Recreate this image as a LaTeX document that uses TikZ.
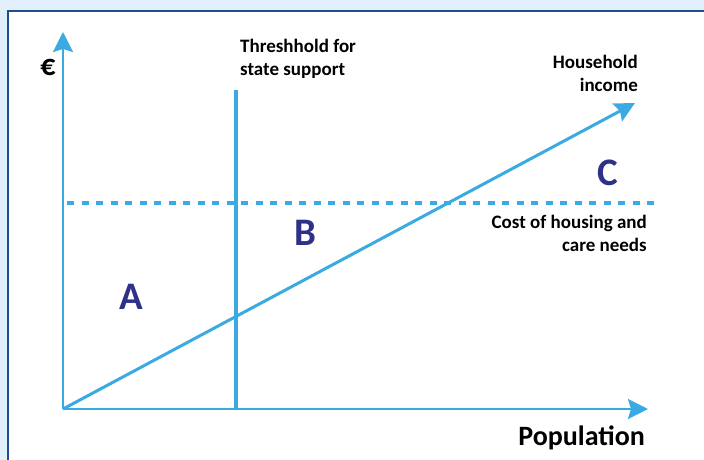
\documentclass[tikz,border=0pt]{standalone}
\usepackage{fontspec}
\setmainfont{Carlito}
\usetikzlibrary{arrows.meta}
\definecolor{framebg}{HTML}{E1F0FB}
\definecolor{framedark}{HTML}{1F4E8A}
\definecolor{lineblue}{HTML}{3BAAE2}
\definecolor{areanavy}{HTML}{2E3187}
\begin{document}
\begin{tikzpicture}[x=1pt, y=-1pt,
	axis/.style={draw=lineblue, line width=2.5pt, -{Stealth[length=20pt, width=20pt, inset=3pt]}},
	lbl/.style={font=\fontsize{19}{22.5}\selectfont\bfseries, inner sep=0pt},
	area/.style={font=\fontsize{39}{40}\selectfont\bfseries, text=areanavy, inner sep=0pt, anchor=base}]
	\useasboundingbox (0,0) rectangle (704,460);
	\fill[framebg] (0,0) rectangle (704,460);
	\clip (0,0) rectangle (704,460);
	\draw[framedark, line width=2pt, fill=white] (8,11) rectangle (720,480);
	
	\coordinate (origin) at (63,409);
	\coordinate (ytip) at (63,32);
	\coordinate (xtip) at (648,409);
	\coordinate (inctip) at (635,103);
	\coordinate (thtop) at (236,90);
	\coordinate (thbot) at (236,409);
	\coordinate (costL) at (67,203);
	\coordinate (costR) at (660,203);
	
	\draw[lineblue, line width=4pt, dash pattern=on 7pt off 7.5pt] (costL) -- (costR);
	\draw[lineblue, line width=4.5pt] (thtop) -- (thbot);
	\draw[axis, line width=3pt] (origin) -- (inctip);
	\draw[axis] (origin) -- (ytip);
	\draw[axis] (origin) -- (xtip);
	
	\node[lbl, align=left, anchor=north west] (thlabel) at (240,39) {Threshhold for\\state support};
	\node[lbl, align=right, anchor=north east] (inclabel) at (638,55) {Household\\income};
	\node[lbl, align=right, anchor=north east] (costlabel) at (647,215) {Cost of housing and\\care needs};
	\node[font=\fontsize{28}{30}\selectfont\bfseries, inner sep=0pt, anchor=base east] (poplabel) at (645,445) {Population};
	\node[font=\fontsize{30}{32}\selectfont\bfseries, inner sep=0pt, anchor=base] (eurolabel) at (48,76) {€};
	
	\node[area] (areaA) at (131,309) {A};
	\node[area] (areaB) at (305,245) {B};
	\node[area] (areaC) at (608,185) {C};
\end{tikzpicture}
\end{document}
